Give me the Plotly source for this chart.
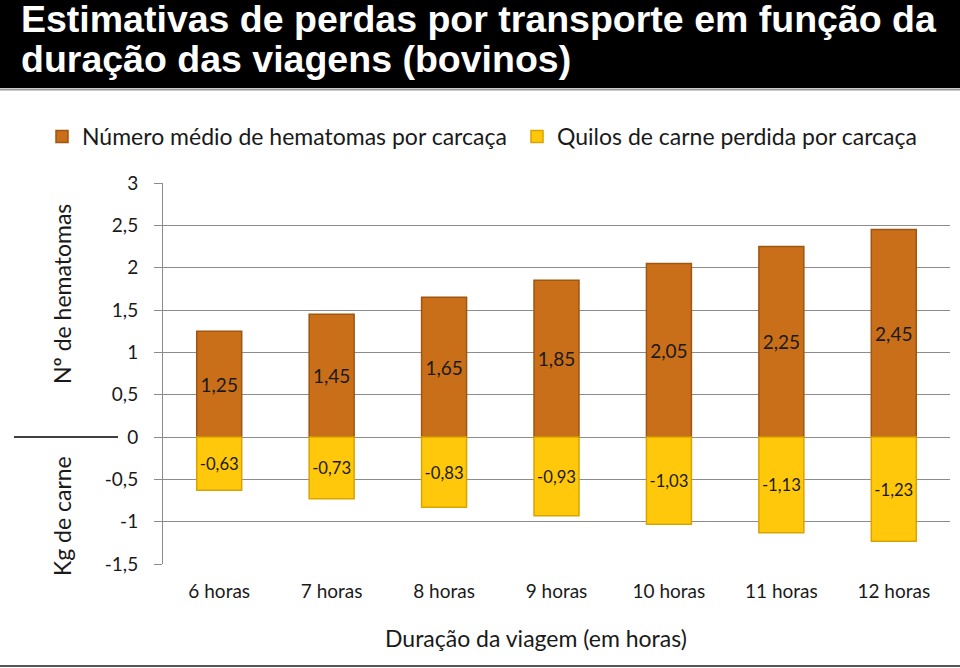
import plotly.graph_objects as go

categories = ["6 horas", "7 horas", "8 horas", "9 horas", "10 horas", "11 horas", "12 horas"]
hematomas = [1.25, 1.45, 1.65, 1.85, 2.05, 2.25, 2.45]
kg_carne = [-0.63, -0.73, -0.83, -0.93, -1.03, -1.13, -1.23]
y_tickvals = [3, 2.5, 2, 1.5, 1, 0.5, 0, -0.5, -1, -1.5]
y_ticktext = ["3", "2,5", "2", "1,5", "1", "0,5", "0", "-0,5", "-1", "-1,5"]

W, H = 960, 668
L, R, T, B = 163, 10, 183, 104
PW, PH = W - L - R, H - T - B


def px(x):
    return (x - L) / PW


def py(y):
    return (H - B - y) / PH


def fmt(v):
    return f"{v:.2f}".replace(".", ",")


FONT = "Lato, Open Sans, sans-serif"
TXT = "#1a1a1a"

fig = go.Figure()
fig.add_trace(go.Bar(
    x=categories, y=hematomas, name="Número médio de hematomas por carcaça",
    marker=dict(color="#C96F1A", line=dict(color="#9E5610", width=1.5)),
    text=[fmt(v) for v in hematomas], textposition="inside",
    insidetextanchor="middle", textangle=0,
    textfont=dict(family=FONT, size=19, color=TXT),
    width=0.4, legend="legend",
))
fig.add_trace(go.Bar(
    x=categories, y=kg_carne, name="Quilos de carne perdida por carcaça",
    marker=dict(color="#FFC80A", line=dict(color="#D9A300", width=1.5)),
    text=[fmt(v) for v in kg_carne], textposition="inside",
    insidetextanchor="middle", textangle=0,
    textfont=dict(family=FONT, size=19, color=TXT),
    width=0.4, legend="legend2",
))

shapes = [
    dict(type="rect", xref="paper", yref="paper", x0=px(0), x1=px(W), y0=py(88), y1=py(0),
         fillcolor="black", line=dict(width=0), layer="above"),
    dict(type="line", xref="paper", yref="paper", x0=px(0), x1=px(W), y0=py(89.5), y1=py(89.5),
         line=dict(color="#9a9a9a", width=2)),
    dict(type="line", xref="paper", yref="paper", x0=px(0), x1=px(W), y0=py(666), y1=py(666),
         line=dict(color="#555555", width=2)),
    dict(type="line", xref="paper", yref="paper", x0=px(14), x1=px(118), y0=py(437), y1=py(437),
         line=dict(color="black", width=1.5)),
]

TITLE_FONT = dict(family="Liberation Sans, Arial", size=37.5, color="white")
annotations = [
    dict(text="<b>Estimativas de perdas por transporte em função da</b>", xref="paper", yref="paper",
         x=px(19), y=py(19), xanchor="left", yanchor="middle", showarrow=False, font=TITLE_FONT),
    dict(text="<b>duração das viagens (bovinos)</b>", xref="paper", yref="paper",
         x=px(19), y=py(59), xanchor="left", yanchor="middle", showarrow=False, font=TITLE_FONT),
    dict(text="Nº de hematomas", xref="paper", yref="paper", x=px(62), y=py(294),
         xanchor="center", yanchor="middle", textangle=-90, showarrow=False,
         font=dict(family=FONT, size=23, color=TXT)),
    dict(text="Kg de carne", xref="paper", yref="paper", x=px(62), y=py(516),
         xanchor="center", yanchor="middle", textangle=-90, showarrow=False,
         font=dict(family=FONT, size=23, color=TXT)),
    dict(text="Duração da viagem (em horas)", xref="paper", yref="paper", x=px(536), y=py(638),
         xanchor="center", yanchor="middle", showarrow=False,
         font=dict(family=FONT, size=23, color=TXT)),
]

LEG_FONT = dict(family=FONT, size=23, color=TXT)
fig.update_layout(
    width=W, height=H,
    margin=dict(l=L, r=R, t=T, b=B, pad=0),
    paper_bgcolor="white", plot_bgcolor="white",
    barmode="relative",
    shapes=shapes, annotations=annotations,
    showlegend=True,
    legend=dict(orientation="h", x=px(42), y=py(115), xanchor="left", yanchor="top",
                font=LEG_FONT, bgcolor="rgba(0,0,0,0)"),
    legend2=dict(orientation="h", x=px(517), y=py(115), xanchor="left", yanchor="top",
                 font=LEG_FONT, bgcolor="rgba(0,0,0,0)"),
    xaxis=dict(showgrid=False, showline=False, ticks="", ticklabelstandoff=14,
               tickfont=dict(family=FONT, size=19, color=TXT)),
    yaxis=dict(range=[-1.5, 3], tickvals=y_tickvals, ticktext=y_ticktext,
               showgrid=True, gridcolor="#8c8c8c", gridwidth=1,
               showline=True, linecolor="#8c8c8c", linewidth=1,
               ticks="outside", ticklen=8, tickcolor="#8c8c8c", ticklabelstandoff=12,
               zeroline=False,
               tickfont=dict(family=FONT, size=19, color=TXT)),
)

fig.write_html("out.html", config={"displayModeBar": False},
               post_script="document.body.style.margin='0';")
